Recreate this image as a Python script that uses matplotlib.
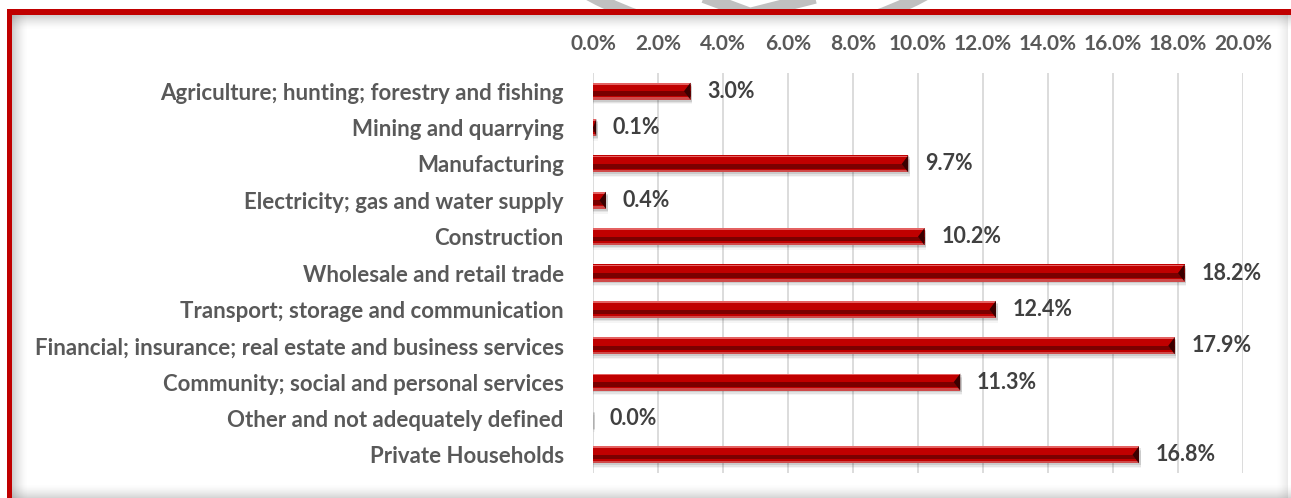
import numpy as np
import matplotlib.pyplot as plt
from matplotlib.patches import Polygon, Rectangle, Circle
from matplotlib.ticker import FuncFormatter

industries = [
    'Agriculture; hunting; forestry and fishing',
    'Mining and quarrying',
    'Manufacturing',
    'Electricity; gas and water supply',
    'Construction',
    'Wholesale and retail trade',
    'Transport; storage and communication',
    'Financial; insurance; real estate and business services',
    'Community; social and personal services',
    'Other and not adequately defined',
    'Private Households',
]
shares = [3.0, 0.1, 9.7, 0.4, 10.2, 18.2, 12.4, 17.9, 11.3, 0.0, 16.8]
ticks = [0, 2, 4, 6, 8, 10, 12, 14, 16, 18, 20]

plt.rcParams['font.family'] = ['Lato', 'DejaVu Sans']
plt.rcParams['font.weight'] = 'bold'

W, H = 1291, 498
fig = plt.figure(figsize=(W / 100, H / 100), dpi=100)

# background frame drawn in pixel units
bg = fig.add_axes([0, 0, 1, 1])
bg.set_xlim(0, W)
bg.set_ylim(H, 0)
bg.axis('off')

# grey logo peeking above the frame
bg.add_patch(Circle((757, -316), 353, fill=False, ec='#c0c0c0', lw=9))
bg.plot([707, 750, 813], [-2, 14, -2], color='#c0c0c0', lw=9)

bg.add_patch(Rectangle((7, 10), W, H, fc='white', ec='none', zorder=2))


def shade(x0, x1, y0, y1, vertical, reverse=False, alpha=0.35):
    n = 40
    a = np.linspace(alpha, 0, n) ** 1.5 / alpha ** 0.5
    if reverse:
        a = a[::-1]
    rgba = np.zeros((n, 1, 4) if vertical else (1, n, 4))
    rgba[..., :3] = 0.45
    rgba[..., 3] = a.reshape(rgba.shape[:2])
    bg.imshow(rgba, extent=(x0, x1, y1, y0), origin='upper',
              aspect='auto', interpolation='bilinear', zorder=3)


shade(12, W, 15, 30, vertical=True)
shade(12, 28, 15, H, vertical=False)
shade(12, W, 484, H, vertical=True, reverse=True, alpha=0.3)
shade(1276, 1288, 15, H, vertical=False, reverse=True, alpha=0.15)
bg.set_xlim(0, W)
bg.set_ylim(H, 0)

# red border on top and left
bg.add_patch(Rectangle((7, 9), W, 6, fc='#c00000', ec='none', zorder=4))
bg.add_patch(Rectangle((7, 9), 5, H, fc='#c00000', ec='none', zorder=4))

# chart
ax = fig.add_axes([593 / W, 1 - 473 / H, 650 / W, 400 / H])
ax.patch.set_alpha(0)
y = np.arange(len(industries))
h = 0.47
vals = np.array(shares)

# soft drop shadow
for dy, a in [(0.05, 0.10), (0.09, 0.07), (0.13, 0.04)]:
    ax.barh(y + dy, vals + 0.05, height=h, color='black', alpha=a, lw=0, zorder=2)

ax.barh(y, vals, height=h, color='#c00000', lw=0, zorder=3)
ax.barh(y - h * 0.44, vals, height=h * 0.1, color='#e46262', lw=0, zorder=4)
ax.barh(y + h * 0.14, vals, height=h * 0.26, color='#7a0000', lw=0, zorder=4)
ax.barh(y + h * 0.43, vals, height=h * 0.14, color='#cf4a4a', lw=0, zorder=4)

# bevelled bar ends
for yi, v in zip(y, vals):
    if v <= 0:
        continue
    d = min(0.2, v)
    ax.add_patch(Polygon([(v, yi - h / 2), (v, yi + h / 2), (v - d, yi)],
                         closed=True, fc='#3a0000', ec='none', zorder=5))

for yi, v in zip(y, vals):
    ax.annotate(f'{v:.1f}%', xy=(v, yi), xytext=(12, 0), textcoords='offset points',
                va='center', ha='left', fontsize=15.5, color='#404040',
                fontweight='bold')

ax.set_xlim(0, 20)
ax.set_ylim(len(industries) - 0.5, -0.5)
ax.set_yticks(y)
ax.set_yticklabels(industries)
ax.set_xticks(ticks)
ax.xaxis.set_major_formatter(FuncFormatter(lambda v, _: f'{v:.1f}%'))
ax.xaxis.tick_top()
ax.tick_params(axis='x', length=0, pad=14, labelsize=15, labelcolor='#595959')
ax.tick_params(axis='y', length=0, pad=21, labelsize=16, labelcolor='#595959')
ax.grid(axis='x', color='#d9d9d9', lw=1.3)
ax.set_axisbelow(True)
for s in ax.spines.values():
    s.set_visible(False)

fig.savefig('out.png', dpi=100)
